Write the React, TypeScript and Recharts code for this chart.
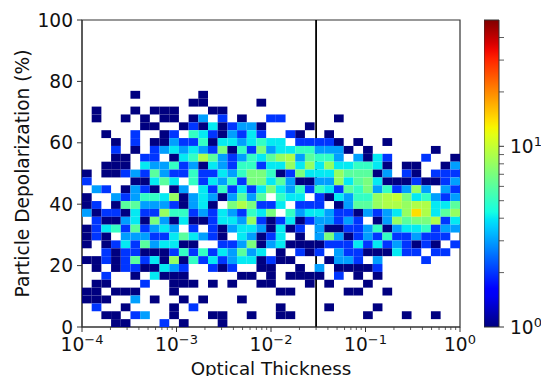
import React from "react";
import {
  ComposedChart, Scatter, XAxis, YAxis, ReferenceLine, ReferenceArea, Label,
} from "recharts";

// Counts per 2-D histogram bin: top row first (row 29) down to row 0.
// '.' is an empty bin, 'a' = 10, 'e' = 14. Left part = columns 0-18, right part = columns 19-38.
const countRows: string[] = [
  ".....1......1...... ....................",
  "...........11.....1 ....................",
  ".1...1.111...11.... ....................",
  ".1..1.1.11.13.2.1.. 22.....1............",
  "......11..121412331 ....1...............",
  "..1..2..12.54213242 ..21..1.............",
  "...1.2.113225144345 44.22221.1..1.......",
  "...2.1.234343271527 344553331.1......1..",
  "...11.22.1459632354 68936553.3142...2..1",
  "..111.4335231432552 4484848445541.11..13",
  "1.11232632252243577 5127444866613.21.222",
  "2....11464.52435277 46311338467411121123",
  ".32.1321.13.4252424 74352542657352383.32",
  "1..3235548134313636 .544.214355 89a745323",
  "12.16633321341.7972 24.222.1366899899446",
  "3122142285523243254 7.534432213234 8e9468",
  ".2113417314112 44382 1241233232.138677924",
  "1245262343.2.213443 1412.311223513445233",
  "121.33322464321.431 24.1.37312325223222.",
  "1.1242634411..22371 341111222424232121.2",
  "..21221112525243634 .1.212.322111422.22.",
  "1121262418152423441 211...1332.3....2...",
  ".1.12211432..212..1 1..1.3.11112........",
  "..2..1.4111.....11. 1.1111.2.1.1........",
  ".11...2..111.1.1..1 1...1.1...1.........",
  "11.111...1......... .11.....11..1.......",
  "111..3.1..1.1...1.. ....................",
  ".2..1....1.2....... .1....1....1........",
  "..11.23..1...11..1. .11.......1...1..1..",
  "...11...2.1...1.... ....................",
];

const xMajorTicks: number[] = [1e-4, 1e-3, 1e-2, 1e-1, 1];
const xMinorFactors: number[] = [2, 3, 4, 5, 6, 7, 8, 9];
const yTicks: number[] = [0, 20, 40, 60, 80, 100];
const colorbarTicks: number[] = [1, 2, 3, 4, 5, 6, 7, 8, 9, 10, 20, 30, 40];
const thresholdX = 0.03;
const binCount = 39;
const vmax = 50;

const FONT = "DejaVu Sans";
const FS = 18.6;
const INK = "#111111";
const SPINE = "#333333";

const PLOT = { left: 82, right: 460, top: 20, bottom: 327 };
const cellW = (PLOT.right - PLOT.left) / binCount;
const cellH = (PLOT.bottom - PLOT.top) / binCount;

type Seg = [number, number][];
const R: Seg = [[0, 0], [0.35, 0], [0.66, 1], [0.89, 1], [1, 0.5]];
const G: Seg = [[0, 0], [0.125, 0], [0.375, 1], [0.64, 1], [0.91, 0], [1, 0]];
const B: Seg = [[0, 0.5], [0.11, 1], [0.34, 1], [0.65, 0], [1, 0]];
const seg = (s: Seg, t: number) => {
  for (let i = 1; i < s.length; i++) {
    if (t <= s[i][0]) {
      const [a, av] = s[i - 1];
      const [b, bv] = s[i];
      return av + ((bv - av) * (t - a)) / (b - a);
    }
  }
  return s[s.length - 1][1];
};
const jet = (t: number) =>
  `rgb(${Math.round(seg(R, t) * 255)},${Math.round(seg(G, t) * 255)},${Math.round(seg(B, t) * 255)})`;
const countColor = (c: number) => jet(Math.log(c) / Math.log(vmax));

type Cell = { x: number; y: number; count: number };
const cells: Cell[] = [];
countRows.forEach((raw, r) => {
  const row = raw.replace(/ /g, "");
  const k = countRows.length - 1 - r;
  row.split("").forEach((ch, i) => {
    if (ch === ".") return;
    cells.push({
      x: Math.pow(10, -4 + (4 * (i + 0.5)) / binCount),
      y: ((k + 0.5) * 100) / binCount,
      count: parseInt(ch, 16),
    });
  });
});

const xTicks: number[] = [];
xMajorTicks.forEach((m) => {
  xTicks.push(m);
  if (m < 1) xMinorFactors.forEach((f) => xTicks.push(m * f));
});

const PowerLabel = ({ x, y, exp, anchor }: { x: number; y: number; exp: number; anchor: "middle" | "start" }) => (
  <text x={x} y={y} textAnchor={anchor} fontFamily={FONT} fontSize={FS} fill={INK}>
    10
    <tspan dy={-7.5} fontSize={13}>{exp < 0 ? `\u2212${-exp}` : `${exp}`}</tspan>
  </text>
);

const XTick = (props: any) => {
  const { x, y, payload } = props;
  const exp = Math.log10(payload.value);
  const major = Math.abs(exp - Math.round(exp)) < 1e-6;
  return (
    <g>
      <line x1={x} x2={x} y1={y} y2={y + (major ? 5 : 3)} stroke={SPINE} strokeWidth={major ? 1 : 0.8} />
      {major && <PowerLabel x={x} y={y + 24} exp={Math.round(exp)} anchor="middle" />}
    </g>
  );
};

const CbTick = (props: any) => {
  const { x, y, payload } = props;
  const exp = Math.log10(payload.value);
  const major = Math.abs(exp - Math.round(exp)) < 1e-6;
  return (
    <g>
      <line x1={x} x2={x + 5} y1={y} y2={y} stroke={SPINE} strokeWidth={major ? 1 : 0.8} />
      {major && <PowerLabel x={x + 11} y={y + 7} exp={Math.round(exp)} anchor="start" />}
    </g>
  );
};

const CellShape = (props: any) => {
  const { cx, cy, payload } = props;
  return (
    <rect
      x={cx - cellW / 2}
      y={cy - cellH / 2}
      width={cellW}
      height={cellH}
      fill={countColor(payload.count)}
      stroke="none"
    />
  );
};

const gradientStops: number[] = Array.from({ length: 41 }, (_, i) => i / 40);

export default function App() {
  return (
    <div style={{ position: "absolute", left: 0, top: 0, width: 541, height: 376, background: "#fff", overflow: "hidden" }}>
      <div style={{ position: "absolute", left: 0, top: 0 }}>
        <ComposedChart
          width={541}
          height={376}
          data={cells}
          margin={{ top: PLOT.top, right: 541 - PLOT.right, bottom: 0, left: 0 }}
        >
          <XAxis
            type="number"
            dataKey="x"
            scale="log"
            domain={[1e-4, 1]}
            ticks={xTicks}
            interval={0}
            height={376 - PLOT.bottom}
            tick={XTick}
            tickLine={false}
            tickSize={0}
            tickMargin={0}
            axisLine={{ stroke: SPINE }}
            allowDataOverflow
          >
            <Label value="Optical Thickness" position="insideBottom" offset={1} fontFamily={FONT} fontSize={18.3} fill={INK} />
          </XAxis>
          <YAxis
            type="number"
            dataKey="y"
            domain={[0, 100]}
            ticks={yTicks}
            width={PLOT.left}
            interval={0}
            tick={{ fontFamily: FONT, fontSize: FS, fill: INK }}
            tickSize={5}
            tickMargin={4}
            tickLine={{ stroke: SPINE }}
            axisLine={{ stroke: SPINE }}
          >
            <Label value="Particle Depolarization (%)" angle={-90} position="insideLeft" offset={22} dy={0} style={{ textAnchor: "middle" }} fontFamily={FONT} fontSize={FS} fill={INK} />
          </YAxis>
          <Scatter data={cells} dataKey="y" shape={CellShape} isAnimationActive={false} />
          <ReferenceLine x={thresholdX} stroke="#000000" strokeWidth={1.8} />
          <ReferenceArea x1={1e-4} x2={1} y1={0} y2={100} fill="none" stroke={SPINE} strokeWidth={1.2} />
        </ComposedChart>
      </div>
      <div style={{ position: "absolute", left: 484, top: 0 }}>
        <ComposedChart
          width={57}
          height={376}
          data={[{ x: 0.5, y: vmax }]}
          margin={{ top: PLOT.top, right: 0, bottom: 376 - PLOT.bottom, left: 0 }}
        >
          <defs>
            <linearGradient id="jetBar" x1="0" y1="1" x2="0" y2="0">
              {gradientStops.map((t) => (
                <stop key={t} offset={t} stopColor={jet(t)} />
              ))}
            </linearGradient>
          </defs>
          <XAxis type="number" dataKey="x" domain={[0, 1]} hide />
          <YAxis
            type="number"
            orientation="right"
            scale="log"
            domain={[1, vmax]}
            ticks={colorbarTicks}
            interval={0}
            width={42}
            tick={CbTick}
            tickLine={false}
            tickSize={0}
            tickMargin={0}
            axisLine={false}
            allowDataOverflow
          />
          <ReferenceArea x1={0} x2={1} y1={1} y2={vmax} fill="url(#jetBar)" fillOpacity={1} stroke={SPINE} strokeWidth={1} />
        </ComposedChart>
      </div>
    </div>
  );
}
